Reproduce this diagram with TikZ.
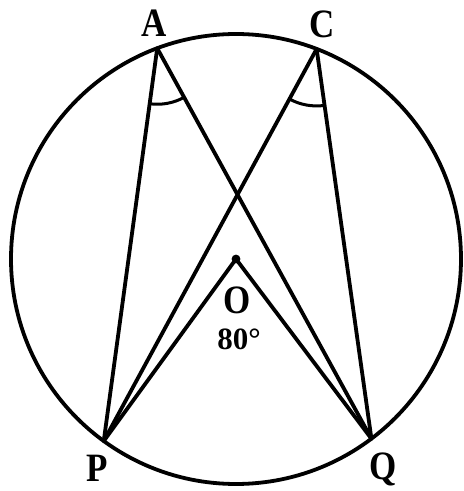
\documentclass[tikz,border=0pt]{standalone}
\usepackage{fontspec}
\setmainfont{Liberation Serif}
\usetikzlibrary{calc}
\tikzset{
  geo/.style={line width=3.8pt, line cap=round, line join=round},
  anglemark/.style={line width=3pt},
  lbl/.style={inner sep=0pt, font=\fontsize{35}{35}\selectfont\bfseries},
  deg/.style={inner sep=0pt, font=\fontsize{31}{31}\selectfont\bfseries}
}
\begin{document}
\begin{tikzpicture}[x=1pt,y=1pt]
\useasboundingbox (0,0) rectangle (464,491);
\coordinate (O) at (236,232);
\coordinate (A) at ($(O)+(110.5:225)$);
\coordinate (C) at ($(O)+(69:225)$);
\coordinate (P) at ($(O)+(234:225)$);
\coordinate (Q) at ($(O)+(307:225)$);
\draw[geo] (O) circle (225);
\draw[geo] (A) -- (P);
\draw[geo] (A) -- (Q);
\draw[geo] (C) -- (P);
\draw[geo] (C) -- (Q);
\draw[geo] (P) -- (O) -- (Q);
\fill (O) circle (4.4);
\draw[anglemark] ($(A)+(262.2:56)$) arc (262.2:298.7:56);
\draw[anglemark] ($(C)+(241.5:57)$) arc (241.5:278:57);
\node[lbl] (lA) at (154,468) {\scalebox{1}[1.15]{A}};
\node[lbl] (lC) at (322,467) {\scalebox{1}[1.15]{C}};
\node[lbl] (lO) at (237,191) {\scalebox{1}[1.15]{O}};
\node[deg] (l80) at (239,152) {80°};
\node[lbl] (lP) at (97,23) {\scalebox{1}[1.15]{P}};
\node[lbl] (lQ) at (383,22) {\scalebox{1}[1.15]{Q}};
\end{tikzpicture}
\end{document}
